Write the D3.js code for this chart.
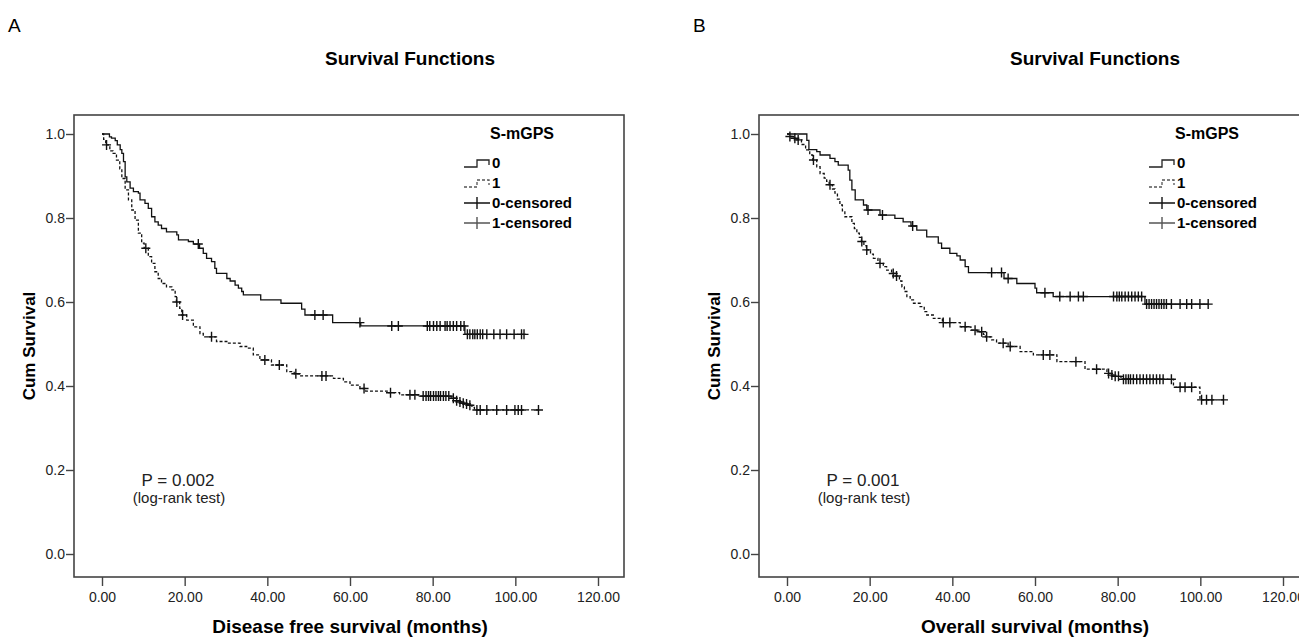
<!DOCTYPE html>
<html>
<head>
<meta charset="utf-8">
<script src="https://cdn.jsdelivr.net/npm/d3@7"></script>
<style>
body { margin: 0; background: #fff; }
svg { display: block; font-family: "Liberation Sans", Arial, sans-serif; }
</style>
</head>
<body>
<svg id="km" width="1299" height="639"></svg>
<script>
// tick values and labels
const xTicks = [0, 20, 40, 60, 80, 100, 120];
const yTicks = [0, 0.2, 0.4, 0.6, 0.8, 1.0];
const panelLetters = ["A", "B"];
const chartTitle = "Survival Functions";
const xTitles = ["Disease free survival (months)", "Overall survival (months)"];
const yTitle = "Cum Survival";
const legendTitle = "S-mGPS";
const legendLabels = ["0", "1", "0-censored", "1-censored"];
const pTexts = ["P = 0.002", "P = 0.001"];
const testText = "(log-rank test)";

// Kaplan-Meier steps: [month, survival after the drop]
const dfsSteps0 = [[1.8,0.993],[2.3,0.99],[3.2,0.984],[3.7,0.974],[4.4,0.963],[4.8,0.954],[5.2,0.934],[5.6,0.898],[6.0,0.886],[6.8,0.871],[7.6,0.863],[8.8,0.859],[9.2,0.843],[10.4,0.835],[11.2,0.823],[12.0,0.803],[12.8,0.791],[13.6,0.783],[14.4,0.775],[15.6,0.767],[18.1,0.760],[18.5,0.748],[20.9,0.744],[22.1,0.738],[23.6,0.728],[24.5,0.716],[25.3,0.704],[26.5,0.696],[27.3,0.680],[27.7,0.668],[30.2,0.656],[31.0,0.650],[32.2,0.640],[33.0,0.633],[33.8,0.625],[34.2,0.617],[38.4,0.605],[43.3,0.597],[48.3,0.583],[49.1,0.569],[55.8,0.551],[62.6,0.543],[87.8,0.523]];
const dfsCensor0 = [23.3,51.5,53.5,62.4,70.1,71.7,78.7,79.3,80.2,81.0,81.8,83.0,83.5,84.2,85.0,85.8,86.8,87.6,88.4,89.0,89.7,90.2,90.8,91.5,92.1,93.1,94.8,96.3,97.9,99.7,101.5,102.1];

const dfsSteps1 = [[0.4,0.987],[0.9,0.974],[1.9,0.960],[2.7,0.954],[3.5,0.938],[4.3,0.917],[4.8,0.894],[5.6,0.867],[6.4,0.843],[7.2,0.819],[8.0,0.795],[8.8,0.764],[9.6,0.740],[10.2,0.728],[11.2,0.708],[12.0,0.692],[12.8,0.672],[13.6,0.656],[14.4,0.644],[15.6,0.636],[16.9,0.629],[17.7,0.613],[18.0,0.600],[18.8,0.585],[19.3,0.569],[20.5,0.557],[22.1,0.541],[23.7,0.525],[24.5,0.517],[27.7,0.506],[30.2,0.502],[33.4,0.494],[35.0,0.490],[36.6,0.474],[38.2,0.462],[41.0,0.450],[44.7,0.434],[46.5,0.429],[47.9,0.424],[56.0,0.418],[58.4,0.410],[60.0,0.402],[62.4,0.394],[63.8,0.388],[69.0,0.384],[72.0,0.379],[76.5,0.376],[84.5,0.371],[85.5,0.365],[86.3,0.362],[87.0,0.359],[87.8,0.357],[88.6,0.354],[89.5,0.349],[90.1,0.343]];
const dfsCensor1 = [1.1,10.6,18.1,19.5,26.5,39.4,42.9,46.9,53.2,54.2,63.4,69.8,74.5,75.7,77.7,78.4,79.0,79.5,80.2,80.8,81.4,81.9,82.6,83.2,83.9,85.0,85.8,86.6,87.4,88.2,89.0,90.7,91.5,93.1,95.5,97.9,99.9,100.7,101.5,105.6];

const osSteps0 = [[4.8,0.985],[5.3,0.963],[7.2,0.958],[8.0,0.950],[10.4,0.942],[11.6,0.934],[12.4,0.926],[14.8,0.914],[15.2,0.890],[15.7,0.867],[16.5,0.843],[18.5,0.831],[19.3,0.819],[22.5,0.807],[26.1,0.799],[28.1,0.791],[30.0,0.781],[31.4,0.771],[33.8,0.755],[36.6,0.740],[37.4,0.728],[39.4,0.716],[41.1,0.710],[41.9,0.700],[43.1,0.684],[43.9,0.670],[52.5,0.656],[55.6,0.644],[60.0,0.633],[60.4,0.622],[64.4,0.613],[86.6,0.595]];
const osCensor0 = [19.6,23.1,30.4,49.5,51.9,53.5,62.4,66.0,68.5,70.5,71.7,79.0,79.8,80.4,81.0,81.8,82.6,83.4,84.2,85.0,85.8,87.0,87.6,88.2,88.8,89.4,90.0,90.6,91.2,91.8,93.0,95.1,96.7,97.9,99.9,101.9];

const osSteps1 = [[0.5,0.994],[1.5,0.990],[2.3,0.986],[3.5,0.975],[4.5,0.962],[5.5,0.950],[6.2,0.938],[7.2,0.922],[8.0,0.906],[9.0,0.895],[9.6,0.887],[10.2,0.879],[11.0,0.869],[11.6,0.859],[12.2,0.845],[12.8,0.831],[13.4,0.817],[14.0,0.803],[15.7,0.787],[16.3,0.775],[16.9,0.764],[17.5,0.754],[18.0,0.744],[18.6,0.734],[19.2,0.724],[20.2,0.714],[20.9,0.704],[22.0,0.692],[23.3,0.684],[24.1,0.676],[25.3,0.668],[26.2,0.662],[27.2,0.650],[27.8,0.636],[28.4,0.625],[29.0,0.613],[29.8,0.605],[30.6,0.597],[32.2,0.589],[33.2,0.577],[33.8,0.569],[35.4,0.561],[37.6,0.551],[41.9,0.541],[44.5,0.533],[46.0,0.529],[47.5,0.523],[48.0,0.517],[49.5,0.510],[50.7,0.502],[53.5,0.494],[56.4,0.482],[59.6,0.474],[65.3,0.458],[72.1,0.440],[77.4,0.430],[78.2,0.426],[79.0,0.423],[80.8,0.416],[93.5,0.397],[99.9,0.367]];
const osCensor1 = [0.7,1.9,2.7,6.4,10.4,18.1,19.3,22.5,25.7,26.5,37.8,39.4,43.1,45.5,47.1,48.3,52.3,54.0,62.0,63.6,69.9,74.9,77.8,78.6,79.4,80.2,81.4,82.0,82.6,83.1,83.8,84.6,85.4,86.2,87.0,87.8,88.6,89.4,90.2,91.0,93.0,95.1,96.3,97.9,100.3,101.5,102.8,105.6];

const svg = d3.select("svg#km");
const frame = { left: 74, top: 115, width: 550, height: 462 };
const panelOffsets = [0, 685];

const panels = [
    { steps: [dfsSteps0, dfsSteps1], censor: [dfsCensor0, dfsCensor1] },
    { steps: [osSteps0, osSteps1], censor: [osCensor0, osCensor1] }
];

const x = d3.scaleLinear().domain([0, 120]).range([102, 598]);
const y = d3.scaleLinear().domain([0, 1]).range([554, 134]);

// survival value at time t (step function lookup)
function survAt(steps, t) {
    const i = d3.bisectRight(steps.map(d => d[0]), t);
    return i === 0 ? 1 : steps[i - 1][1];
}

const line = d3.line()
    .x(d => x(d[0]))
    .y(d => y(d[1]))
    .curve(d3.curveStepAfter);

panels.forEach((p, pi) => {
    const g = svg.append("g").attr("transform", `translate(${panelOffsets[pi]},0)`);

    g.append("text")
        .attr("x", 8).attr("y", 32)
        .attr("font-size", 19)
        .text(panelLetters[pi]);

    g.append("text")
        .attr("x", 410).attr("y", 65)
        .attr("text-anchor", "middle")
        .attr("font-size", 19).attr("font-weight", "bold")
        .text(chartTitle);

    // frame
    g.append("rect")
        .attr("x", frame.left).attr("y", frame.top)
        .attr("width", frame.width).attr("height", frame.height)
        .attr("fill", "none").attr("stroke", "#444").attr("stroke-width", 1.6);

    // axes
    const leftAxis = d3.axisLeft(y).tickValues(yTicks).tickFormat(d3.format(".1f"))
        .tickSize(8).tickPadding(1);
    const la = g.append("g").attr("class", "y axis")
        .attr("transform", `translate(${frame.left},0)`)
        .call(leftAxis);
    const bottomAxis = d3.axisBottom(x).tickValues(xTicks).tickFormat(d3.format(".2f"))
        .tickSize(9).tickPadding(6);
    const ba = g.append("g").attr("class", "x axis")
        .attr("transform", `translate(0,${frame.top + frame.height})`)
        .call(bottomAxis);
    [la, ba].forEach(a => {
        a.select(".domain").remove();
        a.selectAll("line").attr("stroke", "#444").attr("stroke-width", 1.4);
        a.selectAll("text").attr("font-size", 14).attr("fill", "#222")
            .attr("font-family", "Liberation Sans, Arial, sans-serif");
    });

    g.append("text")
        .attr("transform", `translate(35,${frame.top + frame.height / 2}) rotate(-90)`)
        .attr("text-anchor", "middle")
        .attr("font-size", 17).attr("font-weight", "bold")
        .text(yTitle);

    g.append("text")
        .attr("x", frame.left + frame.width / 2 + 1).attr("y", 633)
        .attr("text-anchor", "middle")
        .attr("font-size", 19).attr("font-weight", "bold")
        .text(xTitles[pi]);

    // curves
    p.steps.forEach((steps, gi) => {
        const cens = p.censor[gi];
        const last = steps[steps.length - 1];
        const tEnd = Math.max(last[0], d3.max(cens));
        const pts = [[0, 1]].concat(steps, [[tEnd, last[1]]]);
        g.append("path")
            .datum(pts)
            .attr("fill", "none")
            .attr("stroke", "#111")
            .attr("stroke-width", 1.3)
            .attr("stroke-dasharray", gi === 1 ? "3,2" : null)
            .attr("d", line);

        g.append("g").selectAll("path")
            .data(cens)
            .join("path")
            .attr("d", t => {
                const cx = x(t), cy = y(survAt(steps, t));
                return `M${cx - 4.5},${cy}H${cx + 4.5}M${cx},${cy - 5}V${cy + 5}`;
            })
            .attr("stroke", "#111")
            .attr("stroke-width", 1.4)
            .attr("fill", "none");
    });

    // legend
    const lg = g.append("g");
    lg.append("text")
        .attr("x", 522).attr("y", 139)
        .attr("text-anchor", "middle")
        .attr("font-size", 16).attr("font-weight", "bold")
        .text(legendTitle);
    const rowY = [163, 183, 203, 223];
    legendLabels.forEach((lab, i) => {
        const cy = rowY[i];
        if (i < 2) {
            lg.append("path")
                .attr("d", `M464,${cy + 4}H477V${cy - 3}H489V${cy + 2}`)
                .attr("fill", "none")
                .attr("stroke", i === 0 ? "#222" : "#555")
                .attr("stroke-width", 1.3)
                .attr("stroke-dasharray", i === 1 ? "3,2" : null);
        } else {
            lg.append("path")
                .attr("d", `M464,${cy}H490M477,${cy - 6}V${cy + 6}`)
                .attr("fill", "none")
                .attr("stroke", i === 2 ? "#111" : "#555")
                .attr("stroke-width", 1.4);
        }
        lg.append("text")
            .attr("x", 492).attr("y", cy + 5)
            .attr("font-size", 15).attr("font-weight", "bold")
            .text(lab);
    });

    g.append("text")
        .attr("x", 178).attr("y", 486)
        .attr("text-anchor", "middle")
        .attr("font-size", 17).attr("fill", "#222")
        .text(pTexts[pi]);
    g.append("text")
        .attr("x", 179).attr("y", 503)
        .attr("text-anchor", "middle")
        .attr("font-size", 15).attr("fill", "#222")
        .text(testText);
});
</script>
</body>
</html>
